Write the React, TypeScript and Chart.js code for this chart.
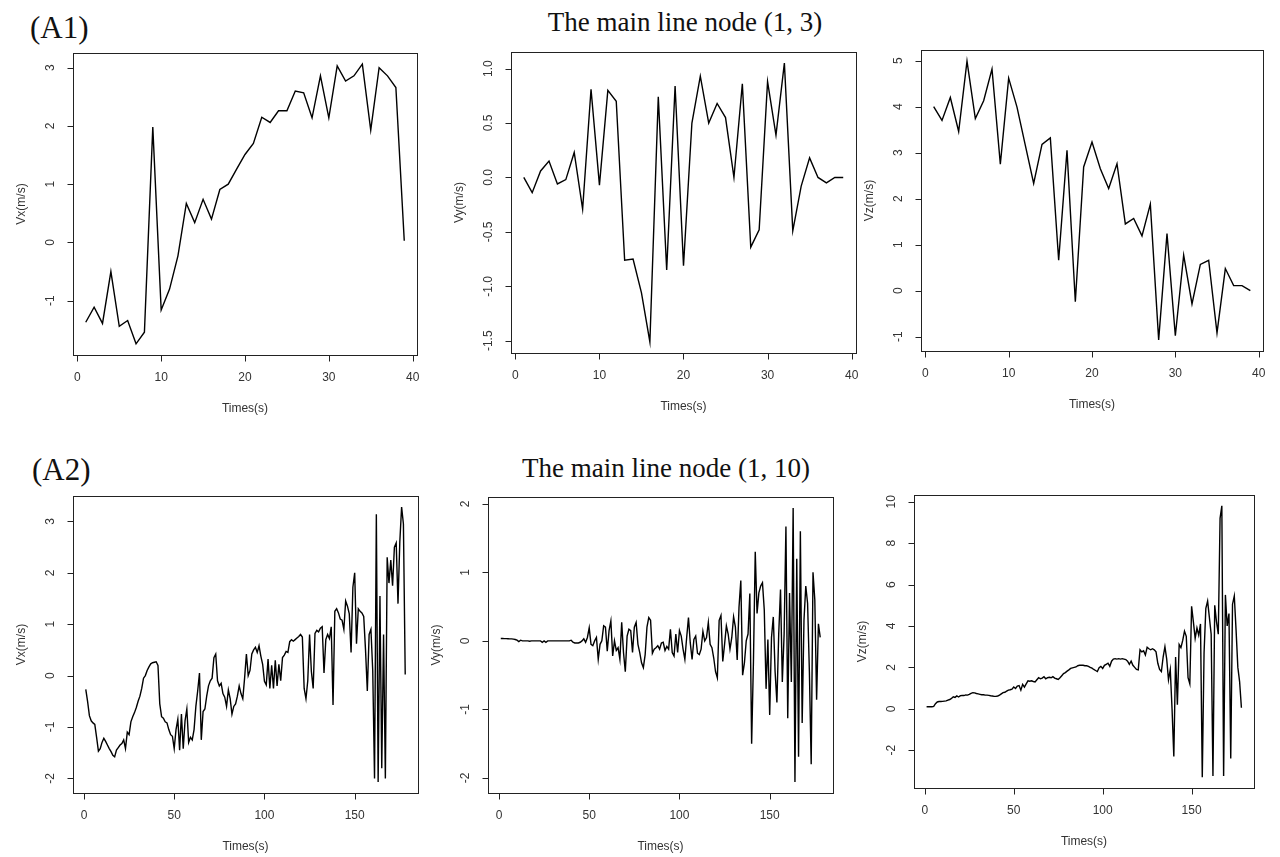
import React, { useEffect, useRef } from "react";
import { Chart, registerables } from "chart.js";

Chart.register(...registerables);

// ---------- data ----------
const TIMES_A1 = Array.from({ length: 39 }, (_, i) => i + 1);
const TIMES_A2 = Array.from({ length: 178 }, (_, i) => i + 1);

const VX_A1 = [-1.37, -1.11, -1.39, -0.5, -1.44, -1.34, -1.74, -1.54, 1.98, -1.16, -0.8, -0.23, 0.67, 0.34, 0.74, 0.4, 0.91, 1.0, 1.26, 1.51, 1.7, 2.15, 2.06, 2.26, 2.26, 2.6, 2.57, 2.14, 2.86, 2.14, 3.03, 2.77, 2.86, 3.06, 1.93, 3.0, 2.86, 2.66, 0.03];
const VY_A1 = [0.0, -0.14, 0.06, 0.15, -0.06, -0.02, 0.23, -0.29, 0.81, -0.07, 0.8, 0.7, -0.76, -0.75, -1.06, -1.51, 0.74, -0.85, 0.84, -0.81, 0.5, 0.93, 0.5, 0.68, 0.55, 0.0, 0.86, -0.64, -0.48, 0.88, 0.39, 1.05, -0.49, -0.08, 0.18, 0.0, -0.05, 0.0, 0.0];
const VZ_A1 = [4.0, 3.7, 4.2, 3.46, 4.99, 3.74, 4.13, 4.82, 2.75, 4.62, 3.99, 3.16, 2.33, 3.18, 3.32, 0.66, 3.05, -0.24, 2.69, 3.23, 2.65, 2.22, 2.76, 1.45, 1.57, 1.19, 1.88, -1.07, 1.24, -0.98, 0.77, -0.29, 0.57, 0.66, -0.92, 0.48, 0.11, 0.11, 0.0];

const VX_A2 = [
  -0.27, -0.5, -0.78, -0.88, -0.92, -0.95, -1.2, -1.47, -1.42, -1.3,
  -1.22, -1.28, -1.35, -1.42, -1.48, -1.55, -1.58, -1.45, -1.4, -1.35,
  -1.32, -1.25, -1.42, -1.1, -1.15, -0.9, -0.8, -0.72, -0.62, -0.5,
  -0.4, -0.25, -0.05, 0.0, 0.1, 0.17, 0.23, 0.25, 0.26, 0.27,
  0.2, -0.55, -0.8, -0.83, -0.9, -0.92, -1.05, -1.15, -1.18, -1.42,
  -1.05, -0.85, -1.45, -0.75, -1.42, -0.88, -0.65, -1.3, -1.2, -1.25,
  -1.05, -0.6, -0.3, 0.05, -1.25, -0.7, -0.65, -0.4, -0.2, -0.1,
  -0.05, 0.35, 0.42, -0.1, -0.2, -0.15, -0.35, -0.42, -0.6, -0.28,
  -0.45, -0.75, -0.6, -0.55, -0.4, -0.2, -0.35, -0.45, -0.05, 0.42,
  0.0, 0.1, 0.42, 0.5, 0.55, 0.45, 0.58, 0.38, 0.22, -0.11,
  -0.18, 0.32, -0.25, 0.2, -0.25, 0.3, -0.2, 0.22, -0.1, 0.35,
  0.4, 0.47, 0.45, 0.66, 0.7, 0.67, 0.7, 0.73, 0.76, 0.8,
  0.75, -0.25, -0.45, -0.1, 0.8, 0.08, -0.25, 0.82, 0.88, 0.85,
  0.92, 0.95, 0.05, 0.7, 0.8, 0.72, 0.95, -0.57, 1.25, 1.3,
  1.22, 1.1, 1.08, 0.9, 1.45, 1.35, 1.2, 0.45, 1.72, 2.0,
  0.62, 1.3, 1.25, 1.22, 1.15, 0.5, -0.3, 0.8, 0.9, 0.1,
  -2.0, 3.14, -2.07, 1.55, -1.8, 0.8, -2.0, 2.3, 1.8, 2.25,
  1.75, 2.5, 2.58, 1.4, 2.6, 3.28, 2.95, 0.02,
];

const VY_A2 = [
  0.034, 0.034, 0.033, 0.033, 0.032, 0.03, 0.03, 0.025, 0.02, 0.01,
  -0.01, 0.01, 0.0, 0.0, 0.0, 0.0, -0.005, 0.0, 0.0, 0.0,
  0.0, 0.0, 0.0, -0.02, 0.0, -0.02, 0.0, 0.0, 0.0, 0.0,
  0.0, 0.0, 0.0, 0.0, 0.0, 0.0, 0.0, 0.0, 0.0, 0.01,
  -0.02, -0.03, -0.03, -0.03, -0.02, 0.0, 0.03, -0.02, 0.05, 0.19,
  -0.05, -0.07, 0.0, 0.05, -0.27, -0.05, 0.0, 0.22, 0.2, -0.15,
  0.15, 0.29, -0.22, 0.0, -0.14, -0.1, -0.27, 0.27, -0.17, -0.45,
  0.07, 0.17, 0.15, -0.17, 0.2, 0.27, -0.05, -0.17, -0.32, -0.39,
  -0.2, 0.2, 0.34, 0.3, -0.18, -0.12, -0.1, -0.07, -0.12, -0.03,
  -0.02, -0.14, -0.08, -0.12, 0.17, -0.17, -0.22, 0.1, -0.17, 0.15,
  0.07, -0.12, -0.27, 0.05, 0.34, -0.03, -0.27, 0.02, 0.07, -0.18,
  -0.2, -0.12, 0.14, 0.0, 0.05, 0.27, -0.05, -0.1, -0.25, -0.45,
  -0.54, 0.3, 0.37, -0.3, -0.05, 0.22, 0.1, -0.12, 0.05, 0.35,
  0.2, -0.28, 0.49, 0.88, -0.5, -0.32, 0.0, 0.1, 0.69, -1.5,
  -0.3, 1.3, 0.4, 0.7, 0.8, 0.85, 0.45, -0.7, 0.02, -1.08,
  0.05, 0.35, -0.45, -0.9, 0.1, 0.75, -0.6, 0.1, 1.67, -1.13,
  0.7, -0.6, 1.94, -2.06, 1.2, -1.69, 1.6, -1.2, 0.3, 0.8,
  0.55, -0.45, -1.8, 1.0, 0.6, -0.86, 0.25, 0.05,
];

const VZ_A2 = [
  0.1, 0.1, 0.1, 0.1, 0.12, 0.25, 0.33, 0.35, 0.35, 0.36,
  0.37, 0.38, 0.42, 0.45, 0.5, 0.58, 0.55, 0.62, 0.57, 0.63,
  0.65, 0.64, 0.67, 0.66, 0.7, 0.75, 0.78, 0.77, 0.74, 0.72,
  0.7, 0.68, 0.68, 0.66, 0.66, 0.65, 0.63, 0.62, 0.6, 0.6,
  0.62, 0.66, 0.72, 0.78, 0.8, 0.85, 0.9, 0.92, 0.95, 1.05,
  0.98, 1.1, 1.12, 0.9, 1.18, 1.05, 1.2, 1.35, 1.33, 1.35,
  1.32, 1.3, 1.4, 1.5, 1.45, 1.48, 1.55, 1.45, 1.5, 1.52,
  1.5, 1.55, 1.48, 1.45, 1.42, 1.5, 1.6, 1.7, 1.75, 1.82,
  1.88, 1.95, 1.98, 2.0, 2.02, 2.08, 2.1, 2.1, 2.1, 2.08,
  2.08, 2.05, 2.0, 1.96, 1.9, 1.85, 1.8, 1.98, 2.05, 1.95,
  2.1, 2.15, 2.2, 2.05, 2.3, 2.4, 2.42, 2.4, 2.42, 2.4,
  2.42, 2.4, 2.38, 2.3, 2.15, 2.3, 2.1, 2.0, 1.9, 1.88,
  2.85, 2.75, 2.8, 2.6, 2.97, 2.9, 2.85, 2.9, 2.85, 2.75,
  2.2, 1.9, 1.8, 2.5, 3.0, 2.4, 1.4, 1.9, 0.0, -2.3,
  2.5, 0.2, 3.1, 2.95, 3.3, 3.75, 3.5, 1.5, 1.2, 4.95,
  4.2, 3.4, 3.9, 3.55, 4.1, -3.3, 2.7, 4.85, 5.2, 4.4,
  3.6, -3.25, 5.0, 4.2, 3.6, 9.2, 9.8, -3.25, 5.5, 4.0,
  4.6, -2.4, 5.05, 5.45, 3.8, 2.0, 1.3, 0.05,
];

const X_TICKS_A1 = [0, 10, 20, 30, 40];
const X_TICKS_A2 = [0, 50, 100, 150];
const Y_TICKS_VX_A1 = ["-1", "0", "1", "2", "3"];
const Y_TICKS_VY_A1 = ["-1.5", "-1.0", "-0.5", "0.0", "0.5", "1.0"];
const Y_TICKS_VZ_A1 = ["-1", "0", "1", "2", "3", "4", "5"];
const Y_TICKS_VX_A2 = ["-2", "-1", "0", "1", "2", "3"];
const Y_TICKS_VY_A2 = ["-2", "-1", "0", "1", "2"];
const Y_TICKS_VZ_A2 = ["-2", "0", "2", "4", "6", "8", "10"];

const X_TITLE = "Times(s)";
const TITLE_A1 = "The main line node (1, 3)";
const TITLE_A2 = "The main line node (1, 10)";

// ---------- layout ----------
type Panel = {
  box: [number, number, number, number]; // left, top, right, bottom
  times: number[];
  values: number[];
  xTicks: number[];
  yTicks: string[];
  yTitle: string;
};

const PANELS: Panel[] = [
  { box: [73, 53, 417, 355], times: TIMES_A1, values: VX_A1, xTicks: X_TICKS_A1, yTicks: Y_TICKS_VX_A1, yTitle: "Vx(m/s)" },
  { box: [511, 52, 856, 353], times: TIMES_A1, values: VY_A1, xTicks: X_TICKS_A1, yTicks: Y_TICKS_VY_A1, yTitle: "Vy(m/s)" },
  { box: [921, 50, 1263, 351], times: TIMES_A1, values: VZ_A1, xTicks: X_TICKS_A1, yTicks: Y_TICKS_VZ_A1, yTitle: "Vz(m/s)" },
  { box: [73, 496, 418, 793], times: TIMES_A2, values: VX_A2, xTicks: X_TICKS_A2, yTicks: Y_TICKS_VX_A2, yTitle: "Vx(m/s)" },
  { box: [488, 497, 833, 793], times: TIMES_A2, values: VY_A2, xTicks: X_TICKS_A2, yTicks: Y_TICKS_VY_A2, yTitle: "Vy(m/s)" },
  { box: [914, 495, 1254, 788], times: TIMES_A2, values: VZ_A2, xTicks: X_TICKS_A2, yTicks: Y_TICKS_VZ_A2, yTitle: "Vz(m/s)" },
];

const PAD_L = 80;
const PAD_T = 10;
const PAD_R = 10;
const PAD_B = 80;
const TEXT_FONT = '12px "Liberation Sans", Arial, sans-serif';
const TEXT_COLOR = "#333";

function rRange(v: number[]): [number, number] {
  const lo = Math.min(...v);
  const hi = Math.max(...v);
  const pad = (hi - lo) * 0.04;
  return [lo - pad, hi + pad];
}

const rAxesPlugin = {
  id: "rAxes",
  afterDraw(chart: any, _args: any, opts: any) {
    const { ctx, chartArea: a, scales } = chart;
    const xs = scales.x;
    const ys = scales.y;
    ctx.save();
    ctx.strokeStyle = "#222";
    ctx.lineWidth = 1;
    const L = Math.round(a.left) + 0.5;
    const T = Math.round(a.top) + 0.5;
    const R = Math.round(a.right) + 0.5;
    const B = Math.round(a.bottom) + 0.5;
    ctx.strokeRect(L, T, R - L, B - T);
    const TL = 6;
    ctx.beginPath();
    for (const v of opts.xTicks) {
      const px = Math.round(xs.getPixelForValue(v)) + 0.5;
      ctx.moveTo(px, B);
      ctx.lineTo(px, B + TL);
    }
    const yVals = opts.yTicks.map((s: string) => parseFloat(s));
    for (const v of yVals) {
      const py = Math.round(ys.getPixelForValue(v)) + 0.5;
      ctx.moveTo(L, py);
      ctx.lineTo(L - TL, py);
    }
    ctx.stroke();

    ctx.fillStyle = TEXT_COLOR;
    ctx.font = TEXT_FONT;
    ctx.textAlign = "center";
    ctx.textBaseline = "middle";
    for (const v of opts.xTicks) {
      ctx.fillText(String(v), xs.getPixelForValue(v), a.bottom + 23);
    }
    ctx.fillText(X_TITLE, (a.left + a.right) / 2, a.bottom + 54);
    opts.yTicks.forEach((s: string, i: number) => {
      const py = ys.getPixelForValue(yVals[i]);
      ctx.save();
      ctx.translate(a.left - 22, py);
      ctx.rotate(-Math.PI / 2);
      ctx.fillText(s, 0, 0);
      ctx.restore();
    });
    ctx.save();
    ctx.translate(a.left - 51, (a.top + a.bottom) / 2);
    ctx.rotate(-Math.PI / 2);
    ctx.fillText(opts.yTitle, 0, 0);
    ctx.restore();
    ctx.restore();
  },
};

function PanelChart({ p }: { p: Panel }) {
  const ref = useRef<HTMLCanvasElement | null>(null);
  const [l, t, r, b] = p.box;
  const w = r - l + PAD_L + PAD_R;
  const h = b - t + PAD_T + PAD_B;
  useEffect(() => {
    if (!ref.current) return;
    const [xmin, xmax] = rRange(p.times);
    const [ymin, ymax] = rRange(p.values);
    const chart = new Chart(ref.current, {
      type: "line",
      data: {
        datasets: [
          {
            data: p.times.map((x, i) => ({ x, y: p.values[i] })),
            borderColor: "#000",
            borderWidth: 1.4,
            pointRadius: 0,
            tension: 0,
            fill: false,
          },
        ],
      },
      options: {
        animation: false,
        responsive: false,
        maintainAspectRatio: false,
        events: [],
        layout: { padding: { left: 10, top: PAD_T, right: PAD_R, bottom: 10 } },
        plugins: {
          legend: { display: false },
          tooltip: { enabled: false },
          rAxes: { xTicks: p.xTicks, yTicks: p.yTicks, yTitle: p.yTitle },
        } as any,
        scales: {
          x: {
            type: "linear",
            min: xmin,
            max: xmax,
            grid: { display: false },
            border: { display: false },
            ticks: { display: false },
            afterFit: (s: any) => {
              s.height = PAD_B - 10;
            },
          },
          y: {
            type: "linear",
            min: ymin,
            max: ymax,
            grid: { display: false },
            border: { display: false },
            ticks: { display: false },
            afterFit: (s: any) => {
              s.width = PAD_L - 10;
            },
          },
        },
      },
      plugins: [rAxesPlugin],
    });
    return () => chart.destroy();
  }, []);
  return (
    <canvas
      ref={ref}
      width={w}
      height={h}
      style={{ position: "absolute", left: l - PAD_L, top: t - PAD_T, width: w, height: h }}
    />
  );
}

const serif = '"Liberation Serif", "Times New Roman", serif';

function Label({ text, x, y, size, center }: { text: string; x: number; y: number; size: number; center?: boolean }) {
  return (
    <div
      style={{
        position: "absolute",
        left: x,
        top: y,
        transform: center ? "translate(-50%, -50%)" : "translate(0, -50%)",
        fontFamily: serif,
        fontSize: size,
        lineHeight: 1,
        whiteSpace: "nowrap",
        color: "#111",
      }}
    >
      {text}
    </div>
  );
}

export default function App() {
  return (
    <div style={{ position: "absolute", left: 0, top: 0, width: 1280, height: 857, background: "#fff", overflow: "hidden" }}>
      <Label text="(A1)" x={30} y={27} size={31} />
      <Label text={TITLE_A1} x={685} y={22} size={27} center />
      <Label text="(A2)" x={32} y={469} size={31} />
      <Label text={TITLE_A2} x={666} y={468} size={27} center />
      {PANELS.map((p, i) => (
        <PanelChart key={i} p={p} />
      ))}
    </div>
  );
}
